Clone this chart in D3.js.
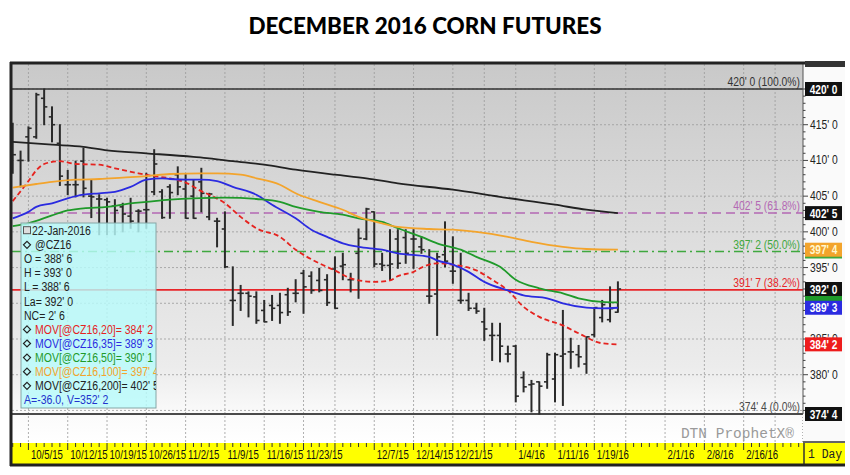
<!DOCTYPE html>
<html><head><meta charset="utf-8">
<script src="https://cdn.jsdelivr.net/npm/d3@7"></script>
<style>body{margin:0;background:#fff;}svg{display:block}</style>
</head><body><svg id="c" width="850" height="475"></svg>
<script>
// ---------------- DATA ----------------
const title = "DECEMBER 2016 CORN FUTURES";
const firstDay = "2015-10-01", lastAxisDay = "2016-02-27";
const holidays = ["2015-11-26","2015-12-25","2016-01-01","2016-01-18","2016-02-15"];
// daily OHLC, 1-Oct-2015 .. 22-Jan-2016 (cents/bu)
const opens  = [413,410,413.3,413.3,418.7,416.1,412.4,406.6,406.6,409.9,405,404.6,404.5,403.6,403.5,402.2,402.9,403.1,405.6,405.6,406.3,408,406,405,407,402.1,401.5,400.4,390.4,391.4,391.4,390.9,389,389.7,389.7,391.2,391.4,394.2,393.8,393.2,393.3,394.8,395.2,393.3,397,399,402.8,395.5,395.3,399,399.2,399,397.9,391,391.3,396.8,394.5,390.4,390.4,389.3,387.4,385.5,385.5,382.9,384,379.6,378.6,379,379,379.4,382.6,383.2,382.8,381.5,385.6,388,387.7,388.75];
const highs  = [415.2,411.3,414.7,419.4,420,417.5,415,408.6,409.9,411.7,407.2,405.2,404.7,404.5,404,404.7,403.1,408.2,411.5,405.9,406.6,409.1,408,407.3,408.9,405.4,401.9,402.8,395.1,392.5,391.6,391.6,390.4,391.1,391.4,392.1,393.3,394.6,394.4,394.9,394,396.5,397,394.2,400.4,403.3,402.8,397,400.3,400.3,400.3,400.3,399.3,397.5,397,401.4,399.3,397,391.4,390,389.3,387.2,387.2,384,384.1,380.4,379.2,379,383,383,389,385.1,384.1,385.3,389.4,390.4,392.3,393];
const lows   = [408.2,406.3,409.9,413.1,415,412.6,406.5,405.2,404.9,404.9,402,399.6,399.6,399.6,400,400.5,400,400.5,405.2,401.9,401.9,405.2,401.9,401.9,402.8,401.7,397.9,395,386.9,389,388.1,387.2,387.4,387.6,387.2,388.3,390.2,388.6,391.4,391.6,389.7,389.3,393.3,391.6,390.7,398.9,395.1,394.6,393.3,394.9,395.6,394.9,397,390,385.5,395.1,392.8,390,389,388.6,384.8,382,381.8,381.8,376.2,377.6,374.8,374.5,378.1,376.2,375.7,380.9,381.1,380.2,385.3,387.4,387.4,388.75];
const closes = [410.8,410,414.5,419.2,417.5,415,407.8,406.6,406.6,406.1,404.9,404.6,404.2,403,402.5,401.5,402.9,403.1,409.5,402,405.5,406.3,401.9,401.9,405.4,405.3,401.5,395.1,390.4,391.4,391,387.6,387.4,389.3,388.7,388.8,391.4,392.3,391.8,391.8,390.1,389.3,395.4,393.3,399.1,403.2,395.5,395.3,395.5,395.6,397,399,397.5,391,396.5,395.9,394.5,390.4,389.3,388.9,386.4,385.5,384,382.9,377,378.3,378.7,378.4,382.8,382.8,382.9,383.2,382.5,385.3,389.4,389.8,389.25,392];
// moving averages: [trading-day number, value]
const ma20  = [[0,404.3],[2,407.1],[3,408.6],[4,409.5],[6,409.9],[8,409.5],[11,409.4],[13,408.9],[16,408.2],[18,407.8],[20,407.5],[22,406.9],[24,405.7],[25,405.2],[27,404],[29,402.1],[31,400.5],[34,399.3],[36,397.5],[39,395.6],[41,394.6],[43,393.5],[46,393],[48,393.2],[49,393.8],[51,394.4],[52,395],[54,395.6],[56,395.4],[59,394.6],[61,393.3],[63,391.8],[65,389.5],[67,388.1],[70,386.9],[72,385.8],[75,384.4],[77,384.25]];
const ma35  = [[0,401.9],[2,402.8],[3,403.5],[5,404],[7,404.7],[9,405.2],[11,405.4],[13,405.6],[15,406.3],[17,407.3],[19,407.5],[20,407.4],[22,407.3],[24,407.3],[26,407.1],[28,406.3],[31,405.2],[33,403.8],[36,401.9],[38,400.3],[40,399.3],[42,398.4],[44,397.9],[47,397.5],[49,397],[53,396.5],[54,396],[56,395.4],[58,394.4],[60,393],[63,391.8],[65,391.1],[68,390.7],[70,390],[73,389.4],[75,389.3],[77,389.375]];
const ma50  = [[0,400.8],[2,401.2],[5,402.3],[7,403],[9,403.3],[12,403.5],[15,404],[17,404.2],[20,404.5],[23,404.7],[27,404.8],[31,404.6],[34,404.2],[36,403.5],[39,402.8],[42,402.4],[44,401.9],[47,401.4],[49,400.5],[52,399.3],[54,398.4],[57,397.5],[59,396.5],[62,395.1],[64,393.3],[67,392.1],[70,391.4],[72,390.7],[75,390.2],[77,390.125]];
const ma100 = [[0,406.2],[3,406.7],[5,407],[8,407.3],[11,407.4],[14,407.6],[17,407.8],[20,408.1],[24,408.2],[26,408.2],[29,408],[31,407.5],[34,406.6],[36,405.4],[39,404.2],[42,403.1],[44,402.1],[47,401.2],[49,400.7],[53,400.4],[56,400.3],[59,400],[63,399.3],[66,398.6],[70,397.9],[73,397.6],[77,397.5]];
const ma200 = [[0,412.6],[5,412.2],[9,411.9],[12,411.4],[17,411],[23,410.5],[25,410.3],[28,409.9],[32,409.4],[36,408.7],[41,408],[45,407.5],[49,406.8],[56,405.9],[62,404.9],[69,403.8],[73,403.1],[77,402.625]];
const maNames = ["MOV[@CZ16,20]","MOV[@CZ16,35]","MOV[@CZ16,50]","MOV[@CZ16,100]","MOV[@CZ16,200]"];
const fibLevels = [420, 402.625, 397.25, 391.875, 374.5];
const fibPct    = ["100.0","61.8","50.0","38.2","0.0"];
const gridTicks = [420,415,410,405,400,395,390,385,380,375];
const axisLabels = [415,410,405,400,395,385,380];
const weekStarts = ["2015-10-05","2015-10-12","2015-10-19","2015-10-26","2015-11-02","2015-11-09","2015-11-16","2015-11-23","2015-11-30","2015-12-07","2015-12-14","2015-12-21","2015-12-28","2016-01-04","2016-01-11","2016-01-19","2016-01-25","2016-02-01","2016-02-08","2016-02-16","2016-02-22"];
const weekLabels = {"2015-10-05":"10/5/15","2015-10-12":"10/12/15","2015-10-19":"10/19/15","2015-10-26":"10/26/15","2015-11-02":"11/2/15","2015-11-09":"11/9/15","2015-11-16":"11/16/15","2015-11-23":"11/23/15","2015-12-07":"12/7/15","2015-12-14":"12/14/15","2015-12-21":"12/21/15","2016-01-04":"1/4/16","2016-01-11":"1/11/16","2016-01-19":"1/19/16","2016-02-01":"2/1/16","2016-02-08":"2/8/16","2016-02-16":"2/16/16"};
const lastDateText = "22-Jan-2016", symbol = "@CZ16", extraText = "A=-36.0, V=352' 2", periodText = "1 Day", brand = "DTN ProphetX\u00AE";

// ---------------- HELPERS ----------------
const iso = d3.timeFormat("%Y-%m-%d");
const parse = d3.timeParse("%Y-%m-%d");
const tradingDays = d3.timeDay.range(parse(firstDay), parse(lastAxisDay))
  .filter(d => d.getDay() !== 0 && d.getDay() !== 6 && !holidays.includes(iso(d))).map(iso);
const dayIndex = s => tradingDays.indexOf(s);
const fmt = v => { const w = Math.floor(v + 1e-9); return w + "' " + Math.round((v - w) * 8); };
const FONT = "'Liberation Sans', Arial, sans-serif";
function squish(sel, f) { sel.each(function(){ const w = this.getComputedTextLength(); d3.select(this).attr("textLength", w*f).attr("lengthAdjust","spacingAndGlyphs"); }); }

const svg = d3.select("#c");
const L = 12, R = 803, T = 64, B = 443;
const x = d3.scaleLinear().domain([-0.09, 100.55]).range([L, R]);
const y = d3.scaleLinear().domain([374.5, 420]).range([414, 89]);

// title
const tt = svg.append("text").attr("x", 425).attr("y", 34).attr("text-anchor","middle")
  .attr("font-family","Lato, 'Open Sans', sans-serif").attr("font-weight","900").attr("font-size",23).attr("fill","#000").text(title);
tt.attr("textLength", 353).attr("lengthAdjust","spacingAndGlyphs");

// background
const defs = svg.append("defs");
const g1 = defs.append("linearGradient").attr("id","bg").attr("x1",0).attr("y1",0).attr("x2",0).attr("y2",1);
g1.append("stop").attr("offset","0%").attr("stop-color","#c9c9c9");
g1.append("stop").attr("offset","80%").attr("stop-color","#ececec");
g1.append("stop").attr("offset","92%").attr("stop-color","#fafafa");
g1.append("stop").attr("offset","100%").attr("stop-color","#ffffff");
defs.append("clipPath").attr("id","plot").append("rect").attr("x",L).attr("y",T).attr("width",R-L).attr("height",B-T);
svg.append("rect").attr("x",L).attr("y",T).attr("width",R-L).attr("height",B-T).attr("fill","url(#bg)");

// grid
const grid = svg.append("g").attr("stroke","#9a9a9a").attr("stroke-width",0.8).attr("stroke-dasharray","2,2");
grid.selectAll("line.h").data(gridTicks).join("line").attr("x1",L).attr("x2",R).attr("y1",d=>y(d)).attr("y2",d=>y(d));
grid.selectAll("line.v").data(weekStarts).join("line").attr("x1",d=>x(dayIndex(d))).attr("x2",d=>x(dayIndex(d))).attr("y1",T).attr("y2",B);

// fib lines
const fibColors = ["#333333","#b468b4","#3fa83f","#e8262a","#4a4a4a"];
const fibDash = [null,"9,5","9,4,2,4",null,null];
const fibW = [1.6,1.5,1.5,1.6,2];
const fg = svg.append("g");
fibLevels.forEach((v,k)=>{
  fg.append("line").attr("x1",L).attr("x2",R).attr("y1",y(v)).attr("y2",y(v))
    .attr("stroke",fibColors[k]).attr("stroke-width",fibW[k]).attr("stroke-dasharray",fibDash[k]);
  const t = fg.append("text").attr("x",800).attr("y",y(v)-3).attr("text-anchor","end")
    .attr("font-family",FONT).attr("font-size",12).attr("fill",fibColors[k]).text(fmt(v)+" ("+fibPct[k]+"%)");
  squish(t,0.86);
});

// bars
const bars = svg.append("g").attr("clip-path","url(#plot)").attr("stroke","#2a2a2a");
opens.forEach((o,i)=>{
  const g = bars.append("g");
  g.append("line").attr("x1",x(i)).attr("x2",x(i)).attr("y1",y(highs[i])-0.5).attr("y2",y(lows[i])+0.5).attr("stroke-width",2);
  g.append("line").attr("x1",x(i)-3.2).attr("x2",x(i)).attr("y1",y(o)).attr("y2",y(o)).attr("stroke-width",1.6);
  g.append("line").attr("x1",x(i)).attr("x2",x(i)+3.2).attr("y1",y(closes[i])).attr("y2",y(closes[i])).attr("stroke-width",1.6);
});

// moving averages
const mas = [ma20, ma35, ma50, ma100, ma200];
const maColors = ["#e5231f","#2b2be0","#1f9a2a","#f3a42c","#222222"];
const line = d3.line().x(d=>x(d[0])).y(d=>y(d[1])).curve(d3.curveMonotoneX);
const mg = svg.append("g").attr("clip-path","url(#plot)");
mas.forEach((m,k)=>{
  mg.append("path").attr("d", line(m)).attr("fill","none").attr("stroke",maColors[k])
    .attr("stroke-width",1.8).attr("stroke-dasharray", k===0 ? "5,3" : null);
});

// lower strip, watermark
svg.append("line").attr("x1",R).attr("x2",R).attr("y1",414).attr("y2",B).attr("stroke","#666").attr("stroke-dasharray","1,2");
svg.append("text").attr("x",794).attr("y",438).attr("text-anchor","end").attr("font-family","'Liberation Mono', 'DejaVu Sans Mono', monospace")
  .attr("font-size",14.5).attr("fill","#9a9a9a").text(brand);

// right axis
svg.append("rect").attr("x",R).attr("y",T).attr("width",845-R).attr("height",B-T).attr("fill","#fafafa");
svg.append("line").attr("x1",R).attr("x2",R).attr("y1",T).attr("y2",414).attr("stroke","#555").attr("stroke-width",1);
const minor = d3.range(375, 421, 1);
svg.append("g").selectAll("line").data(minor).join("line").attr("x1",R).attr("x2",d=>d%5===0?R+5:R+2.5)
  .attr("y1",d=>y(d)).attr("y2",d=>y(d)).attr("stroke","#444").attr("stroke-width",1);
const tl = svg.append("g").selectAll("text").data(axisLabels).join("text").attr("x",810).attr("y",d=>y(d)+4)
  .attr("font-family",FONT).attr("font-size",12).attr("fill","#222").text(d=>fmt(d));
squish(tl,0.86);
svg.append("line").attr("x1",R).attr("x2",845).attr("y1",442).attr("y2",442).attr("stroke","#333").attr("stroke-width",1.5);

// value boxes (hidden ones drawn as colour only)
const last = closes[closes.length-1];
const boxes = [
  {v:fibLevels[2], fill:"#3fa83f"},
  {v:ma100[ma100.length-1][1], fill:"#f3a42c", tc:"#fff8d0"},
  {v:fibLevels[3], fill:"#e8262a"},
  {v:ma50[ma50.length-1][1], fill:"#1f9a2a"},
  {v:ma35[ma35.length-1][1], fill:"#2b2be0", tc:"#fff"},
  {v:last, fill:"#111", tc:"#fff"},
  {v:ma20[ma20.length-1][1], fill:"#ee1c1c", tc:"#fff"},
  {v:fibLevels[0], fill:"#111", tc:"#fff"},
  {v:fibLevels[1], fill:"#111", tc:"#fff"},
  {v:fibLevels[4], fill:"#111", tc:"#fff"}
];
const bg = svg.append("g");
boxes.forEach(b=>{
  bg.append("rect").attr("x",805).attr("y",y(b.v)-7).attr("width",37).attr("height",14).attr("fill",b.fill);
  if (b.tc) {
    const t = bg.append("text").attr("x",823.5).attr("y",y(b.v)+4.5).attr("text-anchor","middle").attr("font-family",FONT)
      .attr("font-weight","bold").attr("font-size",12).attr("fill",b.tc).text(fmt(b.v));
    squish(t,0.84);
  }
});

// x axis band
svg.append("rect").attr("x",L).attr("y",B).attr("width",845-L).attr("height",21).attr("fill","#ffff00");
const tg = svg.append("g").attr("stroke","#333").attr("stroke-width",1);
tg.selectAll("line").data(tradingDays.map((d,i)=>i).filter(i=>x(i)<R-1)).join("line")
  .attr("x1",i=>x(i)).attr("x2",i=>x(i)).attr("y1",B).attr("y2",i=>weekStarts.includes(tradingDays[i])?B+7:B+4);
svg.append("g").selectAll("g").data(Object.keys(weekLabels)).join("g")
  .attr("transform",d=>`translate(${x(dayIndex(d))+2.5},${B+16}) scale(0.8,1)`)
  .append("text").attr("font-family",FONT).attr("font-size",12).attr("fill","#111").text(d=>weekLabels[d]);
svg.append("line").attr("x1",R+1).attr("x2",R+1).attr("y1",B).attr("y2",465).attr("stroke","#333").attr("stroke-width",1.5);
const pd = svg.append("text").attr("x",808).attr("y",B+15).attr("font-family","'Liberation Mono', monospace").attr("font-size",12).attr("fill","#222").text(periodText);
squish(pd,0.95);

// frame
svg.append("line").attr("x1",10).attr("x2",845).attr("y1",63).attr("y2",63).attr("stroke","#222").attr("stroke-width",3);
svg.append("rect").attr("x",805).attr("y",61).attr("width",40).attr("height",6).attr("fill","#333");
svg.append("line").attr("x1",11).attr("x2",11).attr("y1",62).attr("y2",466).attr("stroke","#222").attr("stroke-width",3);
svg.append("line").attr("x1",10).attr("x2",845).attr("y1",465).attr("y2",465).attr("stroke","#222").attr("stroke-width",3);

// legend box
const lx = 21, ly = 223, lw = 135, lh = 185;
defs.append("clipPath").attr("id","leg").append("rect").attr("x",lx).attr("y",ly).attr("width",lw).attr("height",lh);
svg.append("rect").attr("x",lx).attr("y",ly).attr("width",lw).attr("height",lh).attr("fill","#b8fbfb").attr("fill-opacity",0.82).attr("stroke","#86a6a6");
const lg = svg.append("g").attr("clip-path","url(#leg)");
const n = closes.length - 1;
const legendLines = [
  {t:lastDateText, c:"#222", x:32, icon:"box"},
  {t:symbol, c:"#222", x:35, icon:"dia"},
  {t:"O = "+fmt(opens[n]), c:"#222", x:24},
  {t:"H = "+fmt(highs[n]), c:"#222", x:24},
  {t:"L = "+fmt(lows[n]), c:"#222", x:24},
  {t:"La= "+fmt(closes[n]), c:"#222", x:24},
  {t:"NC= "+fmt(closes[n]-closes[n-1]), c:"#222", x:24}
];
mas.forEach((m,k)=>legendLines.push({t:maNames[k]+"= "+fmt(m[m.length-1][1]), c:maColors[k], x:35, icon:"dia"}));
legendLines.push({t:extraText, c:"#2233cc", x:24});
legendLines.forEach((d,k)=>{
  const cy = 230.7 + 14.1*k;
  if (d.icon==="dia") lg.append("path").attr("d",`M27,${cy-3.5}L30.5,${cy}L27,${cy+3.5}L23.5,${cy}Z`).attr("fill","none").attr("stroke","#222").attr("stroke-width",1.2);
  if (d.icon==="box") { lg.append("rect").attr("x",23.5).attr("y",cy-4).attr("width",7).attr("height",7).attr("fill","#ddd").attr("stroke","#555"); }
  const t = lg.append("text").attr("x",d.x).attr("y",cy+4.3).attr("font-family",FONT).attr("font-size",12.5).attr("fill",d.c).text(d.t);
  squish(t,0.84);
});
</script></body></html>
